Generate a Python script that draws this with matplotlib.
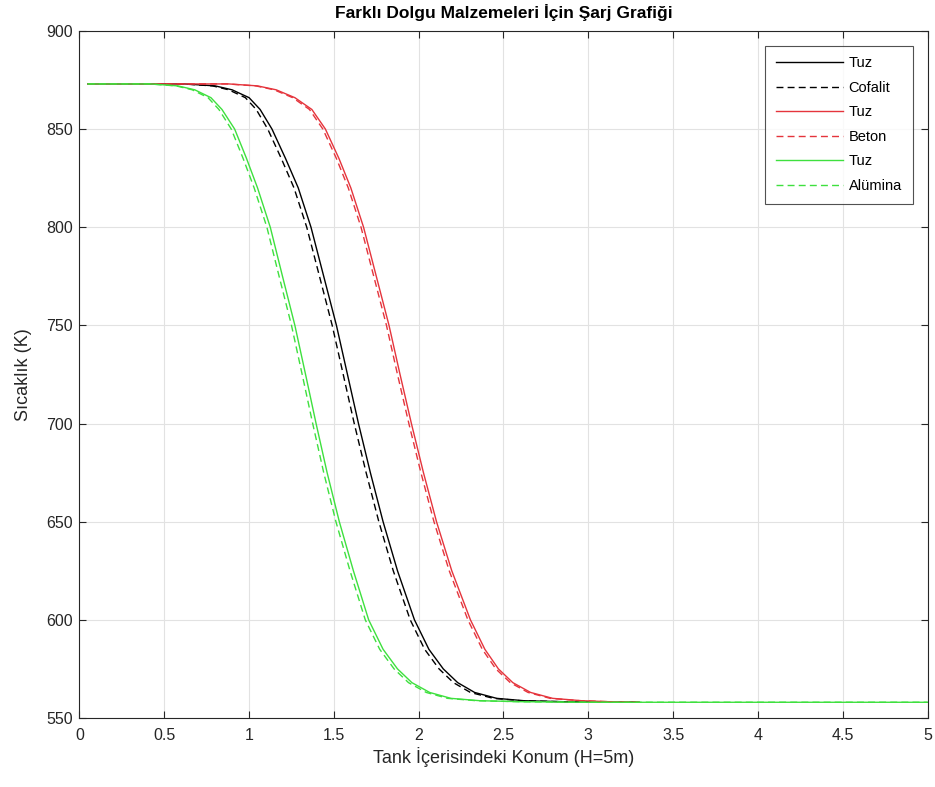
import matplotlib
matplotlib.use('Agg')
import matplotlib.pyplot as plt

plt.rcParams['font.family'] = ['Liberation Sans', 'DejaVu Sans']

# ── data (x = position along tank, y = temperature K) ──
# temperature levels shared by the black and red curves
levels = [873, 873, 872, 870, 866, 860, 850, 835, 820, 800, 775, 750, 725, 700,
          675, 650, 625, 600, 585, 575, 568, 563, 560, 558.8, 558.3, 558]

tuz1_x = [0.05, 0.62, 0.80, 0.90, 1.00, 1.065, 1.135, 1.215, 1.29, 1.365, 1.44,
          1.515, 1.58, 1.645, 1.715, 1.79, 1.875, 1.975, 2.06, 2.145, 2.23,
          2.33, 2.46, 2.62, 2.85, 3.30]
cofalit_x = [0.05, 0.61, 0.785, 0.88, 0.978, 1.042, 1.11, 1.19, 1.265, 1.34, 1.415,
             1.49, 1.555, 1.62, 1.69, 1.765, 1.85, 1.95, 2.035, 2.12, 2.205,
             2.305, 2.44, 2.60, 2.84, 3.30]

tuz2_x = [0.05, 0.88, 1.05, 1.16, 1.27, 1.37, 1.45, 1.53, 1.60, 1.675, 1.75,
          1.825, 1.89, 1.957, 2.028, 2.105, 2.195, 2.305, 2.39, 2.47, 2.555,
          2.66, 2.79, 2.96, 3.12, 3.30]
beton_x = [0.05, 0.87, 1.04, 1.148, 1.257, 1.356, 1.435, 1.515, 1.585, 1.66, 1.735,
           1.81, 1.875, 1.942, 2.013, 2.09, 2.18, 2.29, 2.375, 2.455, 2.54,
           2.645, 2.775, 2.95, 3.12, 3.30]

# green curves run on to the end of the tank
green_levels = [873, 873, 872, 870, 866, 860, 850, 835, 820, 800, 775, 750, 725, 700,
                675, 650, 625, 600, 585, 575, 568, 563, 560, 558.8, 558.3, 558, 558]
tuz3_x = [0.05, 0.42, 0.58, 0.68, 0.775, 0.84, 0.915, 0.985, 1.05, 1.125, 1.197,
          1.27, 1.333, 1.395, 1.46, 1.532, 1.615, 1.705, 1.79, 1.875, 1.96,
          2.065, 2.19, 2.36, 2.60, 3.00, 5.00]
alumina_x = [0.05, 0.41, 0.57, 0.665, 0.758, 0.822, 0.895, 0.965, 1.03, 1.105, 1.177,
             1.25, 1.313, 1.375, 1.44, 1.512, 1.595, 1.685, 1.77, 1.855, 1.94,
             2.045, 2.17, 2.34, 2.59, 3.00, 5.00]

x_ticks = [0, 0.5, 1, 1.5, 2, 2.5, 3, 3.5, 4, 4.5, 5]
y_ticks = [550, 600, 650, 700, 750, 800, 850, 900]

BLACK = '#000000'
RED = '#e5343c'
GREEN = '#3ee03e'
dash = (0, (5, 3))

fig = plt.figure(figsize=(9.35, 7.87), dpi=100)
ax = fig.add_axes([0.085, 0.0877, 0.907, 0.873])

ax.plot(tuz1_x, levels, color=BLACK, lw=1.0, label='Tuz')
ax.plot(cofalit_x, levels, color=BLACK, lw=1.0, ls=dash, label='Cofalit')
ax.plot(tuz2_x, levels, color=RED, lw=1.0, label='Tuz')
ax.plot(beton_x, levels, color=RED, lw=1.0, ls=dash, label='Beton')
ax.plot(tuz3_x, green_levels, color=GREEN, lw=1.0, label='Tuz')
ax.plot(alumina_x, green_levels, color=GREEN, lw=1.0, ls=dash, label='Alümina')

ax.set_xlim(0, 5)
ax.set_ylim(550, 900)
ax.set_xticks(x_ticks)
ax.set_xticklabels([f'{v:g}' for v in x_ticks])
ax.set_yticks(y_ticks)

ax.grid(True, color='#e2e2e2', lw=0.8)
ax.set_axisbelow(True)
ax.tick_params(direction='in', length=5, width=0.8, top=True, right=True,
               labelsize=11.5, colors='#262626', labelcolor='#262626', pad=5)
ax.tick_params(axis='x', pad=7)
for s in ax.spines.values():
    s.set_color('#262626')
    s.set_linewidth(0.8)

ax.set_title('Farklı Dolgu Malzemeleri İçin Şarj Grafiği', fontsize=12.5,
             fontweight='bold', pad=9)
ax.set_xlabel('Tank İçerisindeki Konum (H=5m)', fontsize=13, color='#262626',
              labelpad=3)
ax.set_ylabel('Sıcaklık (K)', fontsize=13, color='#262626', labelpad=10)

leg = ax.legend(loc='upper right', fontsize=10.5, frameon=True, fancybox=False,
                borderaxespad=1.0, handlelength=4.6, labelspacing=0.72,
                borderpad=0.75, handletextpad=0.4)
leg.get_frame().set_edgecolor('#262626')
leg.get_frame().set_linewidth(0.8)

fig.savefig('out.png', dpi=100)
